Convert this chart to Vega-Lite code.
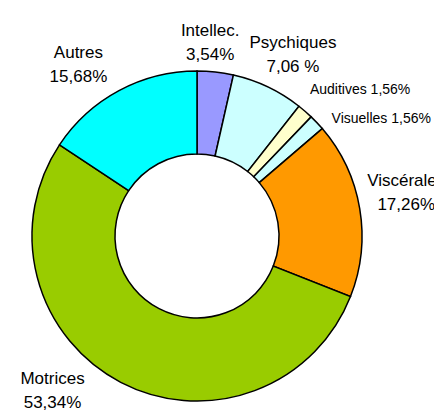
{
  "$schema": "https://vega.github.io/schema/vega-lite/v6.json",
  "width": 330,
  "height": 330,
  "padding": {"left": 32, "top": 71, "right": 72, "bottom": 16},
  "autosize": {"type": "none"},
  "background": "white",
  "config": {"view": {"stroke": null}, "text": {"font": "Liberation Sans"}},
  "data": {
    "values": [
      {"idx": 1, "cat": "Intellec.", "value": 3.54, "label": ["Intellec.", "3,54%"]},
      {"idx": 2, "cat": "Psychiques", "value": 7.06, "label": ["Psychiques", "7,06 %"]},
      {"idx": 3, "cat": "Auditives", "value": 1.56, "label": ["Auditives 1,56%"]},
      {"idx": 4, "cat": "Visuelles", "value": 1.56, "label": ["Visuelles 1,56%"]},
      {"idx": 5, "cat": "Viscérales", "value": 17.26, "label": ["Viscérales", "17,26%"]},
      {"idx": 6, "cat": "Motrices", "value": 53.34, "label": ["Motrices", "53,34%"]},
      {"idx": 7, "cat": "Autres", "value": 15.68, "label": ["Autres", "15,68%"]}
    ]
  },
  "encoding": {
    "theta": {"field": "value", "type": "quantitative", "stack": true},
    "order": {"field": "idx", "type": "quantitative"}
  },
  "layer": [
    {
      "mark": {"type": "arc", "innerRadius": 82, "outerRadius": 165, "stroke": "black", "strokeWidth": 1.5},
      "encoding": {
        "color": {
          "field": "cat", "type": "nominal", "legend": null,
          "scale": {
            "domain": ["Intellec.", "Psychiques", "Auditives", "Visuelles", "Viscérales", "Motrices", "Autres"],
            "range": ["#9999FF", "#CCFFFF", "#FFFFCC", "#CCFFFF", "#FF9900", "#99CC00", "#00FFFF"]
          }
        }
      }
    },
    {
      "mark": {"type": "text", "radius": 200, "fontSize": 17, "lineHeight": 24, "align": "center", "baseline": "middle", "dx": -9, "dy": -6},
      "encoding": {"text": {"condition": {"test": "datum.cat === 'Intellec.'", "field": "label"}, "value": ""}}
    },
    {
      "mark": {"type": "text", "radius": 200, "fontSize": 17, "lineHeight": 24, "align": "center", "baseline": "middle", "dx": 10, "dy": -12},
      "encoding": {"text": {"condition": {"test": "datum.cat === 'Psychiques'", "field": "label"}, "value": ""}}
    },
    {
      "mark": {"type": "text", "radius": 200, "fontSize": 14, "align": "center", "baseline": "middle", "dx": 32, "dy": 5},
      "encoding": {"text": {"condition": {"test": "datum.cat === 'Auditives'", "field": "label"}, "value": ""}}
    },
    {
      "mark": {"type": "text", "radius": 200, "fontSize": 14, "align": "center", "baseline": "middle", "dx": 39, "dy": 20},
      "encoding": {"text": {"condition": {"test": "datum.cat === 'Visuelles'", "field": "label"}, "value": ""}}
    },
    {
      "mark": {"type": "text", "radius": 200, "fontSize": 17, "lineHeight": 24, "align": "center", "baseline": "middle", "dx": 12, "dy": -22},
      "encoding": {"text": {"condition": {"test": "datum.cat === 'Viscérales'", "field": "label"}, "value": ""}}
    },
    {
      "mark": {"type": "text", "radius": 200, "fontSize": 17, "lineHeight": 24, "align": "center", "baseline": "middle", "dx": -52, "dy": -34},
      "encoding": {"text": {"condition": {"test": "datum.cat === 'Motrices'", "field": "label"}, "value": ""}}
    },
    {
      "mark": {"type": "text", "radius": 200, "fontSize": 17, "lineHeight": 24, "align": "center", "baseline": "middle", "dx": -24, "dy": -7},
      "encoding": {"text": {"condition": {"test": "datum.cat === 'Autres'", "field": "label"}, "value": ""}}
    }
  ]
}
